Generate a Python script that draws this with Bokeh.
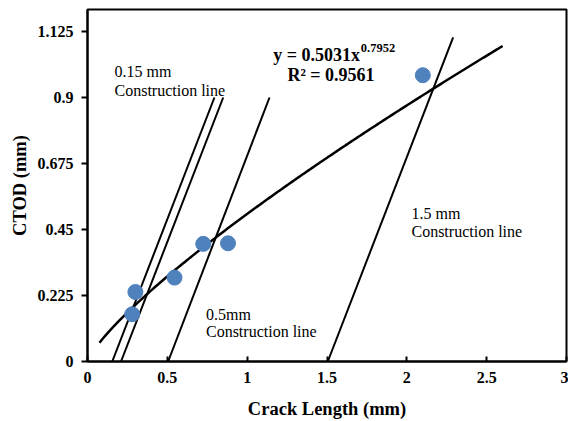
import numpy as np
from bokeh.plotting import figure
from bokeh.models import ColumnDataSource, FixedTicker, Range1d, Label
from bokeh.embed import file_html
from bokeh.resources import INLINE

# Data
crack_length = [0.28, 0.30, 0.545, 0.725, 0.88, 2.10]
ctod = [0.161, 0.237, 0.286, 0.401, 0.403, 0.976]

# Power trendline y = a * x^b
fit_a = 0.5031
fit_b = 0.7952
fit_x_start = 0.075
fit_x_end = 2.6

# Construction lines (start x at y=0, end x, end y)
cl_x0 = [0.155, 0.21, 0.505, 1.505]
cl_x1 = [0.795, 0.85, 1.14, 2.29]
cl_y1 = [0.9, 0.9, 0.9, 1.105]

x_ticks = [0, 0.5, 1, 1.5, 2, 2.5, 3]
x_tick_labels = ["0", "0.5", "1", "1.5", "2", "2.5", "3"]
y_ticks = [0, 0.225, 0.45, 0.675, 0.9, 1.125]
y_tick_labels = ["0", "0.225", "0.45", "0.675", "0.9", "1.125"]

FONT = "Liberation Serif"

p = figure(width=568, height=421, output_backend="svg", toolbar_location=None,
           x_range=Range1d(0, 3), y_range=Range1d(0, 1.2),
           min_border_left=87, min_border_right=2, min_border_top=9, min_border_bottom=60)
p.background_fill_color = "white"
p.border_fill_color = "white"
p.xgrid.visible = False
p.ygrid.visible = False
p.outline_line_color = "black"
p.outline_line_width = 2
p.outline_line_alpha = 1

# Axes
p.xaxis.ticker = FixedTicker(ticks=x_ticks)
p.xaxis.major_label_overrides = dict(zip(x_ticks, x_tick_labels))
p.yaxis.ticker = FixedTicker(ticks=y_ticks)
p.yaxis.major_label_overrides = dict(zip(y_ticks, y_tick_labels))
for ax in (p.xaxis, p.yaxis):
    ax.axis_line_color = "black"
    ax.axis_line_width = 2
    ax.major_tick_line_color = "black"
    ax.major_tick_line_width = 2
    ax.minor_tick_line_color = None
    ax.major_label_text_font = FONT
    ax.major_label_text_font_style = "bold"
    ax.major_label_text_font_size = "16px"
    ax.major_label_text_color = "black"
    ax.axis_label_text_font = FONT
    ax.axis_label_text_font_style = "bold"
    ax.axis_label_text_font_size = "18.5px"
    ax.axis_label_text_color = "black"
p.xaxis.major_tick_in = 5
p.xaxis.major_tick_out = 0
p.yaxis.major_tick_in = 0
p.yaxis.major_tick_out = 6
p.xaxis.major_label_standoff = 10
p.yaxis.major_label_standoff = 8
p.xaxis.axis_label = "Crack Length (mm)"
p.yaxis.axis_label = "CTOD (mm)"
p.xaxis.axis_label_standoff = 13
p.yaxis.axis_label_standoff = 5

# Construction lines
xs = [[a, b] for a, b in zip(cl_x0, cl_x1)]
ys = [[0, c] for c in cl_y1]
p.multi_line(xs=xs, ys=ys, line_color="black", line_width=2)

# Trendline
fx = np.linspace(fit_x_start, fit_x_end, 200)
fy = fit_a * fx ** fit_b
p.line(fx, fy, line_color="black", line_width=2.5)

# Data points
src = ColumnDataSource(data=dict(x=crack_length, y=ctod))
p.scatter("x", "y", source=src, size=15, fill_color="#4F81BD", line_color="#4F81BD")

def add_text(x, y, text, size="16px", style="normal", align="left"):
    p.add_layout(Label(x=x, y=y, text=text, text_font=FONT, text_font_size=size,
                       text_font_style=style, text_align=align,
                       text_baseline="alphabetic", text_color="black"))

# Equation
add_text(1.706, 1.045, "y = 0.5031x", size="18px", style="bold", align="right")
add_text(1.712, 1.068, "0.7952", size="12.5px", style="bold", align="left")
add_text(1.525, 0.977, "R² = 0.9561", size="18px", style="bold", align="center")

# Annotations
add_text(0.169, 0.988, "0.15 mm")
add_text(0.169, 0.925, "Construction line")
add_text(0.742, 0.161, "0.5mm")
add_text(0.742, 0.102, "Construction line")
add_text(2.029, 0.506, "1.5 mm")
add_text(2.029, 0.444, "Construction line")

open("out.html", "w").write(file_html(p, INLINE))
